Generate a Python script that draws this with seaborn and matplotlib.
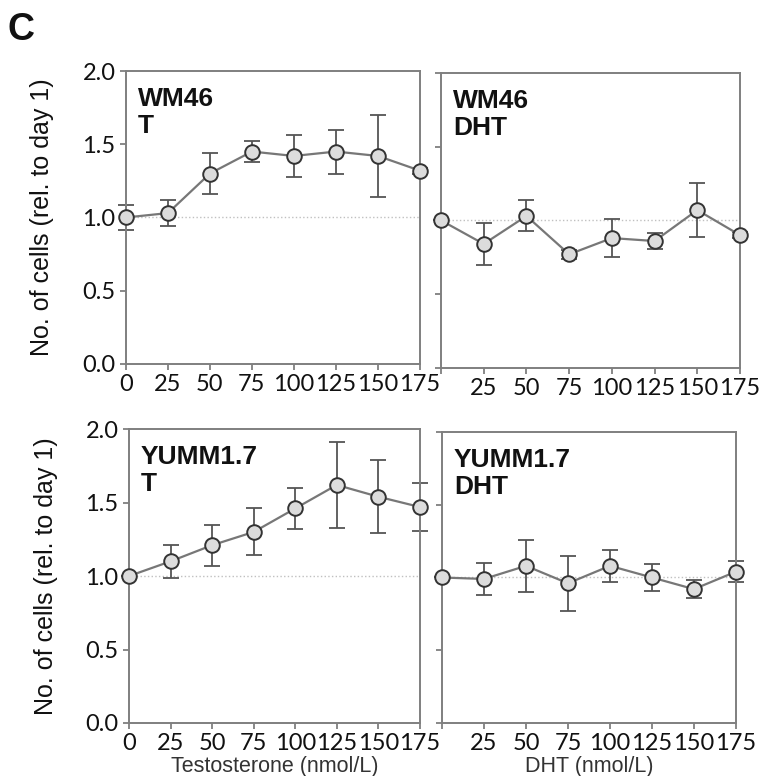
import matplotlib
matplotlib.use('Agg')
import matplotlib.pyplot as plt
import seaborn as sns
import pandas as pd

# doses (nmol/L) and cell counts relative to day 1 (mean, error)
dose = [0, 25, 50, 75, 100, 125, 150, 175]

wm46_t = [1.00, 1.03, 1.30, 1.45, 1.42, 1.45, 1.42, 1.32]
wm46_t_err = [0.085, 0.09, 0.14, 0.07, 0.145, 0.15, 0.28, 0.02]

wm46_dht = [1.00, 0.84, 1.03, 0.77, 0.88, 0.86, 1.07, 0.90]
wm46_dht_err = [0.0, 0.14, 0.105, 0.03, 0.13, 0.056, 0.185, 0.02]

yumm_t = [1.00, 1.10, 1.21, 1.30, 1.46, 1.62, 1.54, 1.47]
yumm_t_err = [0.0, 0.11, 0.14, 0.16, 0.14, 0.29, 0.25, 0.16]

yumm_dht = [1.00, 0.99, 1.08, 0.96, 1.08, 1.00, 0.92, 1.04]
yumm_dht_err = [0.0, 0.11, 0.18, 0.19, 0.11, 0.09, 0.06, 0.07]

y_ticks = [0.0, 0.5, 1.0, 1.5, 2.0]
y_tick_labels = ['0.0', '0.5', '1.0', '1.5', '2.0']
x_tick_labels = [str(d) for d in dose]

sns.set_style('ticks')
plt.rcParams['font.family'] = ['Liberation Sans', 'DejaVu Sans']

fig = plt.figure(figsize=(7.69, 7.76), dpi=100)

boxes = [
    [0.1638, 0.531, 0.3822, 0.3775],
    [0.5735, 0.526, 0.3888, 0.380],
    [0.1677, 0.0683, 0.3783, 0.3787],
    [0.5748, 0.0683, 0.3822, 0.3750],
]

panels = [
    (wm46_t, wm46_t_err, 'WM46\nT', '', True),
    (wm46_dht, wm46_dht_err, 'WM46\nDHT', '', False),
    (yumm_t, yumm_t_err, 'YUMM1.7\nT', 'Testosterone (nmol/L)', True),
    (yumm_dht, yumm_dht_err, 'YUMM1.7\nDHT', 'DHT (nmol/L)', False),
]

frame_col = '#7f7f7f'

for box, (mean, err, name, xlab, left) in zip(boxes, panels):
    ax = fig.add_axes(box)
    df = pd.DataFrame({'dose': dose, 'cells': mean, 'err': err})

    # reference line at 1.0
    ax.axhline(1.0, color='#c0c0c0', lw=1.0, ls=':', zorder=1)

    ax.errorbar(df['dose'], df['cells'], yerr=df['err'], fmt='none',
                ecolor='#555555', elinewidth=1.3, capsize=5.5, capthick=1.3,
                zorder=2, clip_on=False)
    sns.lineplot(data=df, x='dose', y='cells', ax=ax, color='#777777',
                 lw=1.6, marker='o', markersize=10.5, markerfacecolor='#dcdcdc',
                 markeredgecolor='#333333', markeredgewidth=1.4,
                 zorder=3, clip_on=False)

    ax.set_xlim(0, 175)
    ax.set_ylim(0, 2.0)

    xl = x_tick_labels if left else [''] + x_tick_labels[1:]
    ax.set_xticks(dose, xl, fontfamily='Lato', fontsize=17)
    if left:
        ax.set_yticks(y_ticks, y_tick_labels, fontfamily='Lato', fontsize=17)
        ax.set_ylabel('No. of cells (rel. to day 1)', fontsize=18, color='#111111')
        ax.yaxis.set_label_coords(-0.245, 0.5)
    else:
        ax.set_yticks(y_ticks, [''] * len(y_ticks))
        ax.set_ylabel('')

    ax.set_xlabel(xlab, fontsize=15.5, color='#333333', labelpad=1)

    for s in ax.spines.values():
        s.set_visible(True)
        s.set_color(frame_col)
        s.set_linewidth(1.4)
    ax.tick_params(direction='out', length=4, width=1.3, color=frame_col,
                   pad=3.5, labelcolor='#111111')

    ax.text(0.04, 0.945, name, transform=ax.transAxes, ha='left', va='top',
            fontsize=19, fontweight='bold', linespacing=1.15, color='#111111')

fig.text(0.010, 0.948, 'C', fontsize=27, fontweight='bold', ha='left',
         va='baseline', color='#111111')

plt.savefig('out.png', dpi=100)
